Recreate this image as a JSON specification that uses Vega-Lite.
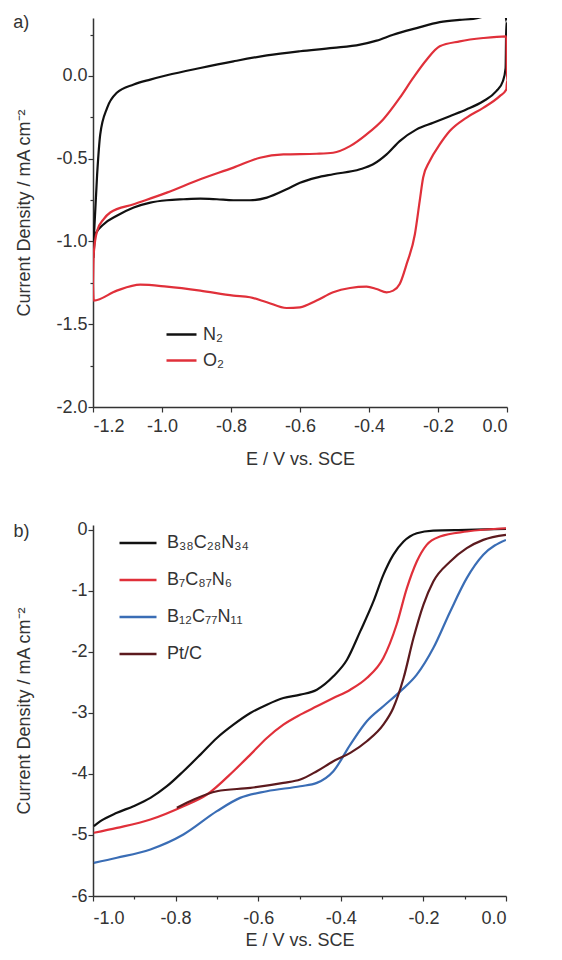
{
  "$schema": "https://vega.github.io/schema/vega-lite/v6.json",
  "padding": {"left": 13, "top": 14, "right": 5, "bottom": 5},
  "background": "white",
  "resolve": {"scale": {"x": "independent", "y": "independent", "color": "independent"}, "legend": {"color": "independent"}},
  "config": {
    "view": {"stroke": null},
    "font": "Liberation Sans",
    "axis": {
      "labelFont": "Liberation Sans", "titleFont": "Liberation Sans",
      "labelFontSize": 18, "titleFontSize": 18, "titleFontWeight": "normal",
      "labelColor": "#333", "titleColor": "#333",
      "domainColor": "#333", "tickColor": "#333", "domainWidth": 1.5, "tickWidth": 1.2,
      "grid": false, "labelPadding": 1
    },
    "legend": {"labelFont": "Liberation Sans", "labelFontSize": 18, "labelColor": "#333"}
  },
  "vconcat": [
    {
      "width": 414,
      "height": 389,
      "data": {"values": [
        {"gas": "N₂", "o": 1, "E": -1.198, "J": -0.996},
        {"gas": "N₂", "o": 2, "E": -1.188, "J": -0.594},
        {"gas": "N₂", "o": 3, "E": -1.179, "J": -0.353},
        {"gas": "N₂", "o": 4, "E": -1.159, "J": -0.193},
        {"gas": "N₂", "o": 5, "E": -1.131, "J": -0.102},
        {"gas": "N₂", "o": 6, "E": -1.082, "J": -0.052},
        {"gas": "N₂", "o": 7, "E": -1.034, "J": -0.022},
        {"gas": "N₂", "o": 8, "E": -0.986, "J": 0.004},
        {"gas": "N₂", "o": 9, "E": -0.889, "J": 0.048},
        {"gas": "N₂", "o": 10, "E": -0.793, "J": 0.088},
        {"gas": "N₂", "o": 11, "E": -0.696, "J": 0.124},
        {"gas": "N₂", "o": 12, "E": -0.6, "J": 0.149},
        {"gas": "N₂", "o": 13, "E": -0.504, "J": 0.169},
        {"gas": "N₂", "o": 14, "E": -0.426, "J": 0.189},
        {"gas": "N₂", "o": 15, "E": -0.378, "J": 0.213},
        {"gas": "N₂", "o": 16, "E": -0.33, "J": 0.249},
        {"gas": "N₂", "o": 17, "E": -0.262, "J": 0.289},
        {"gas": "N₂", "o": 18, "E": -0.195, "J": 0.325},
        {"gas": "N₂", "o": 19, "E": -0.137, "J": 0.339},
        {"gas": "N₂", "o": 20, "E": -0.098, "J": 0.345},
        {"gas": "N₂", "o": 21, "E": -0.05, "J": 0.37},
        {"gas": "N₂", "o": 22, "E": -0.005, "J": 0.4},
        {"gas": "N₂", "o": 23, "E": -0.002, "J": 0.33},
        {"gas": "N₂", "o": 24, "E": -0.004, "J": 0.048},
        {"gas": "N₂", "o": 25, "E": -0.012, "J": -0.032},
        {"gas": "N₂", "o": 26, "E": -0.031, "J": -0.092},
        {"gas": "N₂", "o": 27, "E": -0.069, "J": -0.153},
        {"gas": "N₂", "o": 28, "E": -0.118, "J": -0.203},
        {"gas": "N₂", "o": 29, "E": -0.166, "J": -0.243},
        {"gas": "N₂", "o": 30, "E": -0.214, "J": -0.283},
        {"gas": "N₂", "o": 31, "E": -0.262, "J": -0.323},
        {"gas": "N₂", "o": 32, "E": -0.311, "J": -0.394},
        {"gas": "N₂", "o": 33, "E": -0.349, "J": -0.474},
        {"gas": "N₂", "o": 34, "E": -0.388, "J": -0.534},
        {"gas": "N₂", "o": 35, "E": -0.426, "J": -0.564},
        {"gas": "N₂", "o": 36, "E": -0.504, "J": -0.594},
        {"gas": "N₂", "o": 37, "E": -0.552, "J": -0.614},
        {"gas": "N₂", "o": 38, "E": -0.6, "J": -0.645},
        {"gas": "N₂", "o": 39, "E": -0.639, "J": -0.685},
        {"gas": "N₂", "o": 40, "E": -0.696, "J": -0.735},
        {"gas": "N₂", "o": 41, "E": -0.745, "J": -0.751},
        {"gas": "N₂", "o": 42, "E": -0.793, "J": -0.751},
        {"gas": "N₂", "o": 43, "E": -0.841, "J": -0.745},
        {"gas": "N₂", "o": 44, "E": -0.889, "J": -0.741},
        {"gas": "N₂", "o": 45, "E": -0.938, "J": -0.745},
        {"gas": "N₂", "o": 46, "E": -0.986, "J": -0.751},
        {"gas": "N₂", "o": 47, "E": -1.034, "J": -0.765},
        {"gas": "N₂", "o": 48, "E": -1.082, "J": -0.795},
        {"gas": "N₂", "o": 49, "E": -1.131, "J": -0.845},
        {"gas": "N₂", "o": 50, "E": -1.169, "J": -0.896},
        {"gas": "N₂", "o": 51, "E": -1.193, "J": -0.956},
        {"gas": "N₂", "o": 52, "E": -1.199, "J": -1.1},
        {"gas": "O₂", "o": 1, "E": -1.2, "J": -1.257},
        {"gas": "O₂", "o": 2, "E": -1.198, "J": -1.076},
        {"gas": "O₂", "o": 3, "E": -1.188, "J": -0.936},
        {"gas": "O₂", "o": 4, "E": -1.169, "J": -0.865},
        {"gas": "O₂", "o": 5, "E": -1.15, "J": -0.825},
        {"gas": "O₂", "o": 6, "E": -1.082, "J": -0.775},
        {"gas": "O₂", "o": 7, "E": -0.986, "J": -0.705},
        {"gas": "O₂", "o": 8, "E": -0.889, "J": -0.624},
        {"gas": "O₂", "o": 9, "E": -0.793, "J": -0.554},
        {"gas": "O₂", "o": 10, "E": -0.716, "J": -0.494},
        {"gas": "O₂", "o": 11, "E": -0.648, "J": -0.474},
        {"gas": "O₂", "o": 12, "E": -0.552, "J": -0.47},
        {"gas": "O₂", "o": 13, "E": -0.504, "J": -0.464},
        {"gas": "O₂", "o": 14, "E": -0.455, "J": -0.424},
        {"gas": "O₂", "o": 15, "E": -0.407, "J": -0.353},
        {"gas": "O₂", "o": 16, "E": -0.359, "J": -0.263},
        {"gas": "O₂", "o": 17, "E": -0.311, "J": -0.133},
        {"gas": "O₂", "o": 18, "E": -0.272, "J": -0.012},
        {"gas": "O₂", "o": 19, "E": -0.233, "J": 0.098},
        {"gas": "O₂", "o": 20, "E": -0.195, "J": 0.179},
        {"gas": "O₂", "o": 21, "E": -0.137, "J": 0.209},
        {"gas": "O₂", "o": 22, "E": -0.069, "J": 0.229},
        {"gas": "O₂", "o": 23, "E": -0.002, "J": 0.239},
        {"gas": "O₂", "o": 24, "E": 0.0, "J": -0.032},
        {"gas": "O₂", "o": 25, "E": -0.002, "J": -0.082},
        {"gas": "O₂", "o": 26, "E": -0.021, "J": -0.122},
        {"gas": "O₂", "o": 27, "E": -0.069, "J": -0.193},
        {"gas": "O₂", "o": 28, "E": -0.118, "J": -0.253},
        {"gas": "O₂", "o": 29, "E": -0.166, "J": -0.333},
        {"gas": "O₂", "o": 30, "E": -0.195, "J": -0.414},
        {"gas": "O₂", "o": 31, "E": -0.224, "J": -0.514},
        {"gas": "O₂", "o": 32, "E": -0.243, "J": -0.614},
        {"gas": "O₂", "o": 33, "E": -0.253, "J": -0.755},
        {"gas": "O₂", "o": 34, "E": -0.267, "J": -0.956},
        {"gas": "O₂", "o": 35, "E": -0.291, "J": -1.137},
        {"gas": "O₂", "o": 36, "E": -0.311, "J": -1.257},
        {"gas": "O₂", "o": 37, "E": -0.33, "J": -1.297},
        {"gas": "O₂", "o": 38, "E": -0.349, "J": -1.307},
        {"gas": "O₂", "o": 39, "E": -0.378, "J": -1.287},
        {"gas": "O₂", "o": 40, "E": -0.407, "J": -1.273},
        {"gas": "O₂", "o": 41, "E": -0.455, "J": -1.281},
        {"gas": "O₂", "o": 42, "E": -0.504, "J": -1.307},
        {"gas": "O₂", "o": 43, "E": -0.552, "J": -1.357},
        {"gas": "O₂", "o": 44, "E": -0.6, "J": -1.398},
        {"gas": "O₂", "o": 45, "E": -0.639, "J": -1.402},
        {"gas": "O₂", "o": 46, "E": -0.696, "J": -1.367},
        {"gas": "O₂", "o": 47, "E": -0.745, "J": -1.337},
        {"gas": "O₂", "o": 48, "E": -0.793, "J": -1.327},
        {"gas": "O₂", "o": 49, "E": -0.889, "J": -1.297},
        {"gas": "O₂", "o": 50, "E": -0.986, "J": -1.273},
        {"gas": "O₂", "o": 51, "E": -1.063, "J": -1.261},
        {"gas": "O₂", "o": 52, "E": -1.131, "J": -1.297},
        {"gas": "O₂", "o": 53, "E": -1.198, "J": -1.357},
        {"gas": "O₂", "o": 54, "E": -1.2, "J": -1.257}
      ]},
      "layer": [
        {
          "mark": {"type": "line", "strokeWidth": 2.2, "clip": true, "interpolate": "monotone"},
          "encoding": {
            "x": {"field": "E", "type": "quantitative",
              "scale": {"domain": [-1.2, 0.0], "nice": false, "zero": false},
              "axis": {"title": "E / V vs. SCE", "titlePadding": 15, "labelPadding": 5,
                "values": [-1.2, -1.1, -1.0, -0.9, -0.8, -0.7, -0.6, -0.5, -0.4, -0.3, -0.2, -0.1, 0.0],
                "format": ".1f",
                "labelExpr": "abs(round(datum.value*10)) % 2 == 0 ? replace(datum.label, '−', '-') : ''",
                "tickSize": {"condition": {"test": "abs(round(datum.value*10)) % 2 == 0", "value": 5}, "value": 3}}},
            "y": {"field": "J", "type": "quantitative",
              "scale": {"domain": [-2.0, 0.35], "nice": false, "zero": false},
              "axis": {"title": "Current Density / mA cm⁻²", "titlePadding": 22,
                "values": [-2.0, -1.75, -1.5, -1.25, -1.0, -0.75, -0.5, -0.25, 0.0, 0.25],
                "format": ".1f",
                "labelExpr": "abs(round(datum.value*4)) % 2 == 0 ? replace(datum.label, '−', '-') : ''",
                "tickSize": {"condition": {"test": "abs(round(datum.value*4)) % 2 == 0", "value": 5}, "value": 3}}},
            "color": {"field": "gas", "type": "nominal",
              "scale": {"domain": ["N₂", "O₂"], "range": ["#111111", "#e0303a"]},
              "legend": {"title": null, "orient": "none", "legendX": 72, "legendY": 300,
                "symbolType": "stroke", "symbolSize": 900, "symbolStrokeWidth": 2.5,
                "rowPadding": 0, "labelOffset": 5}},
            "order": {"field": "o", "type": "quantitative"}
          }
        },
        {
          "data": {"values": [{"lab": "a)", "E": -1.408, "J": 0.317}]},
          "mark": {"type": "text", "fontSize": 18, "font": "Liberation Sans", "color": "#333", "baseline": "middle", "align": "center"},
          "encoding": {
            "x": {"field": "E", "type": "quantitative"},
            "y": {"field": "J", "type": "quantitative"},
            "text": {"field": "lab"}
          }
        }
      ]
    },
    {
      "width": 413,
      "height": 371,
      "data": {"values": [
        {"s": "B₃₈C₂₈N₃₄", "E": -0.998, "J": -4.855},
        {"s": "B₃₈C₂₈N₃₄", "E": -0.982, "J": -4.774},
        {"s": "B₃₈C₂₈N₃₄", "E": -0.942, "J": -4.637},
        {"s": "B₃₈C₂₈N₃₄", "E": -0.902, "J": -4.528},
        {"s": "B₃₈C₂₈N₃₄", "E": -0.861, "J": -4.392},
        {"s": "B₃₈C₂₈N₃₄", "E": -0.821, "J": -4.201},
        {"s": "B₃₈C₂₈N₃₄", "E": -0.781, "J": -3.955},
        {"s": "B₃₈C₂₈N₃₄", "E": -0.74, "J": -3.683},
        {"s": "B₃₈C₂₈N₃₄", "E": -0.7, "J": -3.41},
        {"s": "B₃₈C₂₈N₃₄", "E": -0.66, "J": -3.192},
        {"s": "B₃₈C₂₈N₃₄", "E": -0.619, "J": -3.001},
        {"s": "B₃₈C₂₈N₃₄", "E": -0.579, "J": -2.864},
        {"s": "B₃₈C₂₈N₃₄", "E": -0.539, "J": -2.755},
        {"s": "B₃₈C₂₈N₃₄", "E": -0.498, "J": -2.7},
        {"s": "B₃₈C₂₈N₃₄", "E": -0.458, "J": -2.619},
        {"s": "B₃₈C₂₈N₃₄", "E": -0.418, "J": -2.4},
        {"s": "B₃₈C₂₈N₃₄", "E": -0.385, "J": -2.128},
        {"s": "B₃₈C₂₈N₃₄", "E": -0.353, "J": -1.664},
        {"s": "B₃₈C₂₈N₃₄", "E": -0.321, "J": -1.173},
        {"s": "B₃₈C₂₈N₃₄", "E": -0.297, "J": -0.737},
        {"s": "B₃₈C₂₈N₃₄", "E": -0.273, "J": -0.409},
        {"s": "B₃₈C₂₈N₃₄", "E": -0.248, "J": -0.191},
        {"s": "B₃₈C₂₈N₃₄", "E": -0.216, "J": -0.055},
        {"s": "B₃₈C₂₈N₃₄", "E": -0.176, "J": -0.011},
        {"s": "B₃₈C₂₈N₃₄", "E": -0.095, "J": 0.0},
        {"s": "B₃₈C₂₈N₃₄", "E": 0.0, "J": 0.016},
        {"s": "B₇C₈₇N₆", "E": -0.998, "J": -4.964},
        {"s": "B₇C₈₇N₆", "E": -0.942, "J": -4.883},
        {"s": "B₇C₈₇N₆", "E": -0.861, "J": -4.746},
        {"s": "B₇C₈₇N₆", "E": -0.781, "J": -4.528},
        {"s": "B₇C₈₇N₆", "E": -0.724, "J": -4.337},
        {"s": "B₇C₈₇N₆", "E": -0.66, "J": -3.955},
        {"s": "B₇C₈₇N₆", "E": -0.619, "J": -3.683},
        {"s": "B₇C₈₇N₆", "E": -0.579, "J": -3.41},
        {"s": "B₇C₈₇N₆", "E": -0.539, "J": -3.192},
        {"s": "B₇C₈₇N₆", "E": -0.498, "J": -3.028},
        {"s": "B₇C₈₇N₆", "E": -0.458, "J": -2.891},
        {"s": "B₇C₈₇N₆", "E": -0.418, "J": -2.755},
        {"s": "B₇C₈₇N₆", "E": -0.377, "J": -2.619},
        {"s": "B₇C₈₇N₆", "E": -0.337, "J": -2.428},
        {"s": "B₇C₈₇N₆", "E": -0.297, "J": -2.1},
        {"s": "B₇C₈₇N₆", "E": -0.265, "J": -1.555},
        {"s": "B₇C₈₇N₆", "E": -0.24, "J": -0.955},
        {"s": "B₇C₈₇N₆", "E": -0.216, "J": -0.518},
        {"s": "B₇C₈₇N₆", "E": -0.192, "J": -0.245},
        {"s": "B₇C₈₇N₆", "E": -0.16, "J": -0.109},
        {"s": "B₇C₈₇N₆", "E": -0.095, "J": -0.027},
        {"s": "B₇C₈₇N₆", "E": 0.0, "J": 0.027},
        {"s": "B₁₂C₇₇N₁₁", "E": -0.998, "J": -5.456},
        {"s": "B₁₂C₇₇N₁₁", "E": -0.942, "J": -5.374},
        {"s": "B₁₂C₇₇N₁₁", "E": -0.861, "J": -5.237},
        {"s": "B₁₂C₇₇N₁₁", "E": -0.781, "J": -4.992},
        {"s": "B₁₂C₇₇N₁₁", "E": -0.7, "J": -4.61},
        {"s": "B₁₂C₇₇N₁₁", "E": -0.644, "J": -4.392},
        {"s": "B₁₂C₇₇N₁₁", "E": -0.579, "J": -4.283},
        {"s": "B₁₂C₇₇N₁₁", "E": -0.498, "J": -4.201},
        {"s": "B₁₂C₇₇N₁₁", "E": -0.458, "J": -4.146},
        {"s": "B₁₂C₇₇N₁₁", "E": -0.418, "J": -3.955},
        {"s": "B₁₂C₇₇N₁₁", "E": -0.377, "J": -3.519},
        {"s": "B₁₂C₇₇N₁₁", "E": -0.337, "J": -3.137},
        {"s": "B₁₂C₇₇N₁₁", "E": -0.297, "J": -2.891},
        {"s": "B₁₂C₇₇N₁₁", "E": -0.256, "J": -2.646},
        {"s": "B₁₂C₇₇N₁₁", "E": -0.216, "J": -2.373},
        {"s": "B₁₂C₇₇N₁₁", "E": -0.176, "J": -1.937},
        {"s": "B₁₂C₇₇N₁₁", "E": -0.135, "J": -1.337},
        {"s": "B₁₂C₇₇N₁₁", "E": -0.095, "J": -0.791},
        {"s": "B₁₂C₇₇N₁₁", "E": -0.055, "J": -0.409},
        {"s": "B₁₂C₇₇N₁₁", "E": 0.0, "J": -0.164},
        {"s": "Pt/C", "E": -0.797, "J": -4.555},
        {"s": "Pt/C", "E": -0.756, "J": -4.419},
        {"s": "Pt/C", "E": -0.7, "J": -4.283},
        {"s": "Pt/C", "E": -0.619, "J": -4.228},
        {"s": "Pt/C", "E": -0.539, "J": -4.146},
        {"s": "Pt/C", "E": -0.498, "J": -4.092},
        {"s": "Pt/C", "E": -0.458, "J": -3.955},
        {"s": "Pt/C", "E": -0.418, "J": -3.792},
        {"s": "Pt/C", "E": -0.377, "J": -3.655},
        {"s": "Pt/C", "E": -0.337, "J": -3.464},
        {"s": "Pt/C", "E": -0.297, "J": -3.192},
        {"s": "Pt/C", "E": -0.273, "J": -2.919},
        {"s": "Pt/C", "E": -0.248, "J": -2.428},
        {"s": "Pt/C", "E": -0.224, "J": -1.773},
        {"s": "Pt/C", "E": -0.2, "J": -1.228},
        {"s": "Pt/C", "E": -0.176, "J": -0.846},
        {"s": "Pt/C", "E": -0.135, "J": -0.518},
        {"s": "Pt/C", "E": -0.095, "J": -0.3},
        {"s": "Pt/C", "E": -0.055, "J": -0.164},
        {"s": "Pt/C", "E": 0.0, "J": -0.082}
      ]},
      "layer": [
        {
          "mark": {"type": "line", "strokeWidth": 2.2, "clip": true, "interpolate": "monotone"},
          "encoding": {
            "x": {"field": "E", "type": "quantitative",
              "scale": {"domain": [-1.0, 0.0], "nice": false, "zero": false},
              "axis": {"title": "E / V vs. SCE", "titlePadding": 4, "labelPadding": 8,
                "values": [-1.0, -0.9, -0.8, -0.7, -0.6, -0.5, -0.4, -0.3, -0.2, -0.1, 0.0],
                "format": ".1f",
                "labelExpr": "abs(round(datum.value*10)) % 2 == 0 ? replace(datum.label, '−', '-') : ''",
                "tickSize": {"condition": {"test": "abs(round(datum.value*10)) % 2 == 0", "value": 5}, "value": 3}}},
            "y": {"field": "J", "type": "quantitative",
              "scale": {"domain": [-6, 0.08], "nice": false, "zero": false},
              "axis": {"title": "Current Density / mA cm⁻²", "titlePadding": 37,
                "values": [-6, -5.5, -5, -4.5, -4, -3.5, -3, -2.5, -2, -1.5, -1, -0.5, 0],
                "format": "d",
                "labelExpr": "abs(round(datum.value*2)) % 2 == 0 ? replace(datum.label, '−', '-') : ''",
                "tickSize": {"condition": {"test": "abs(round(datum.value*2)) % 2 == 0", "value": 5}, "value": 3}}},
            "color": {"field": "s", "type": "nominal",
              "scale": {"domain": ["B₃₈C₂₈N₃₄", "B₇C₈₇N₆", "B₁₂C₇₇N₁₁", "Pt/C"], "range": ["#111111", "#e0303a", "#3a6db5", "#5c1a1e"]},
              "legend": {"title": null, "orient": "none", "legendX": 25, "legendY": 2,
                "symbolType": "stroke", "symbolSize": 1369, "symbolStrokeWidth": 2.5,
                "clipHeight": 32, "rowPadding": 5, "labelOffset": 9}}
          }
        },
        {
          "data": {"values": [{"lab": "b)", "E": -1.173, "J": -0.04}]},
          "mark": {"type": "text", "fontSize": 18, "font": "Liberation Sans", "color": "#333", "baseline": "middle", "align": "center"},
          "encoding": {
            "x": {"field": "E", "type": "quantitative"},
            "y": {"field": "J", "type": "quantitative"},
            "text": {"field": "lab"}
          }
        }
      ]
    }
  ],
  "spacing": 52
}
